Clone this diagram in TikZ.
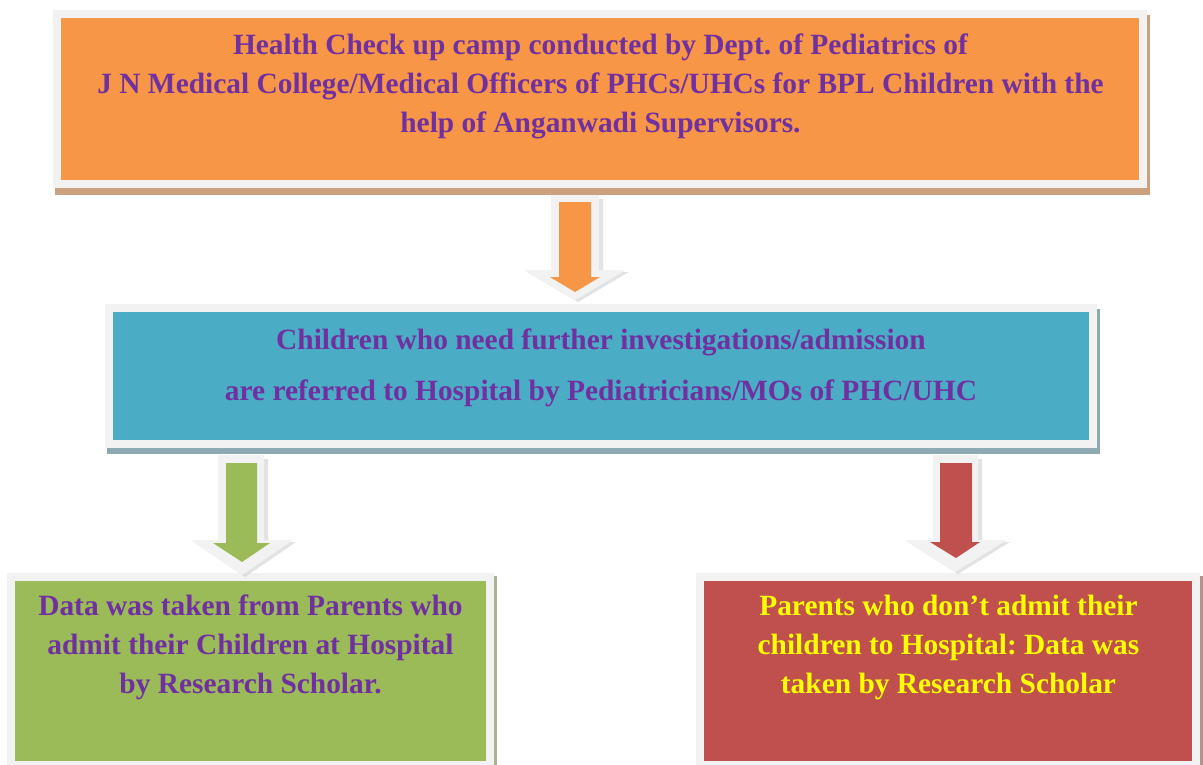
\documentclass[tikz,border=0pt]{standalone}
\usepackage{fontspec}
\setmainfont{Liberation Serif}
\frenchspacing
\definecolor{orangebox}{HTML}{F79646}
\definecolor{tealbox}{HTML}{4BACC6}
\definecolor{greenbox}{HTML}{9BBB59}
\definecolor{redbox}{HTML}{C0504D}
\definecolor{framegray}{HTML}{F2F2F2}
\definecolor{purpletext}{HTML}{7030A0}
\definecolor{yellowtext}{HTML}{FFFF00}
\definecolor{shadoworange}{HTML}{CBA07E}
\definecolor{shadowteal}{HTML}{8DAAB3}
\definecolor{shadowgreen}{HTML}{A8B48F}
\definecolor{shadowred}{HTML}{B8918F}
\definecolor{arrowshadow}{HTML}{C8C8C8}
\begin{document}
\begin{tikzpicture}[x=1pt,y=-1pt,
  box/.style={draw=framegray, line width=8pt, inner sep=0pt, outer sep=4pt},
  txt/.style={align=center, anchor=base, inner sep=0pt,
    font=\fontsize{29.4}{39}\selectfont\bfseries},
  arrowout/.style={fill=framegray},
  arrowshade/.style={fill=arrowshadow, opacity=0.5}]
\useasboundingbox (0,0) rectangle (1203,764);
\fill[white] (0,0) rectangle (1203,764);
\clip (0,0) rectangle (1203,764);

% ---------- top box ----------
\fill[shadoworange] (55,15) rectangle (1150,195);
\node[box, fill=orangebox, minimum width=1086pt, minimum height=170pt] (camp) at (600,99) {};
\node[txt, text=purpletext] (camptext) at (600.5,132)
  {Health Check up camp conducted by Dept. of Pediatrics of\\
   J N Medical College/Medical Officers of PHCs/UHCs for BPL Children with the\\
   help of Anganwadi Supervisors.};

% ---------- middle box ----------
\fill[shadowteal] (107,309) rectangle (1100,454);
\node[box, fill=tealbox, minimum width=984pt, minimum height=136pt] (refer) at (601,376) {};
\node[txt, text=purpletext, font=\fontsize{29.4}{51}\selectfont\bfseries] (refertext) at (601,400)
  {Children who need further investigations/admission\\
   are referred to Hospital by Pediatricians/MOs of PHC/UHC};

% ---------- bottom left box ----------
\fill[shadowgreen] (9,576) rectangle (497,770);
\node[box, fill=greenbox, minimum width=479pt, minimum height=188pt] (admit) at (250.5,671) {};
\node[txt, text=purpletext] (admittext) at (250.5,693)
  {Data was taken from Parents who\\
   admit their Children at Hospital\\
   by Research Scholar.};

% ---------- bottom right box ----------
\fill[shadowred] (698,576) rectangle (1203,770);
\node[box, fill=redbox, minimum width=496pt, minimum height=188pt] (noadmit) at (948,671) {};
\node[txt, text=yellowtext] (noadmittext) at (948.5,693)
  {Parents who don’t admit their\\
   children to Hospital: Data was\\
   taken by Research Scholar};

% ---------- arrows ----------
% orange arrow
\fill[arrowshade] (555,199) -- (603,199) -- (603,272) -- (629,272) -- (578,302) -- (527,272) -- (555,272) -- cycle;
\fill[arrowout] (551,195) -- (599,195) -- (599,270) -- (626,270) -- (575,300) -- (524,270) -- (551,270) -- cycle;
\fill[orangebox] (559,202) -- (591,202) -- (591,277) -- (600,277) -- (575,292) -- (550,277) -- (559,277) -- cycle;
% green arrow
\fill[arrowshade] (222,459) -- (268,459) -- (268,542) -- (296,542) -- (245,577) -- (194,542) -- (222,542) -- cycle;
\fill[arrowout] (218,455) -- (264,455) -- (264,540) -- (293,540) -- (242,575) -- (191,540) -- (218,540) -- cycle;
\fill[greenbox] (226,463) -- (257,463) -- (257,543) -- (270,543) -- (242,562) -- (213,543) -- (226,543) -- cycle;
% red arrow
\fill[arrowshade] (937,459) -- (982,459) -- (982,542) -- (1010,542) -- (958,574) -- (908,542) -- (937,542) -- cycle;
\fill[arrowout] (933,455) -- (978,455) -- (978,540) -- (1007,540) -- (955,572) -- (905,540) -- (933,540) -- cycle;
\fill[redbox] (940,463) -- (972,463) -- (972,542) -- (980,542) -- (956,558) -- (930,542) -- (940,542) -- cycle;
\end{tikzpicture}
\end{document}
